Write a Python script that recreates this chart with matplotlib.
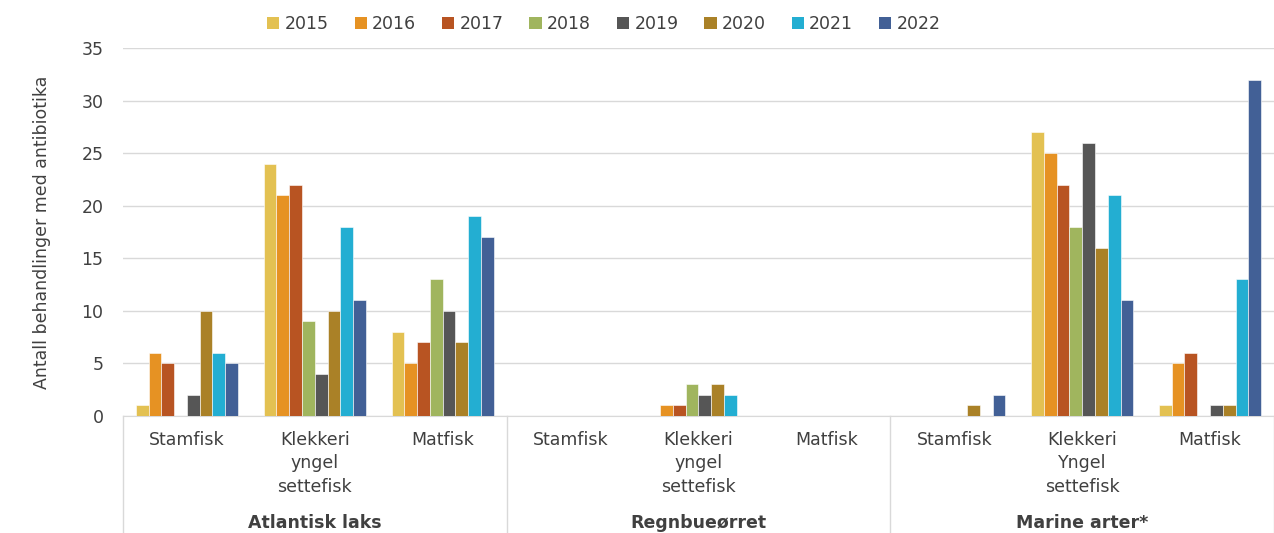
import numpy as np
import matplotlib
matplotlib.use("Agg")
import matplotlib.pyplot as plt
import matplotlib.transforms as mtransforms
from matplotlib.patches import Patch

years = ["2015", "2016", "2017", "2018", "2019", "2020", "2021", "2022"]
colors = ["#E3C152", "#E69223", "#B85422", "#A0B55E", "#565656", "#AA8127", "#23AED2", "#426096"]

species = ["Atlantisk laks", "Regnbueørret", "Marine arter*"]
stages = ["Stamfisk", "Klekkeri\nyngel\nsettefisk", "Matfisk",
          "Stamfisk", "Klekkeri\nyngel\nsettefisk", "Matfisk",
          "Stamfisk", "Klekkeri\nYngel\nsettefisk", "Matfisk"]

# rows = stage groups (in order above), columns = years
values = np.array([
    [1, 6, 5, 0, 2, 10, 6, 5],
    [24, 21, 22, 9, 4, 10, 18, 11],
    [8, 5, 7, 13, 10, 7, 19, 17],
    [0, 0, 0, 0, 0, 0, 0, 0],
    [0, 1, 1, 3, 2, 3, 2, 0],
    [0, 0, 0, 0, 0, 0, 0, 0],
    [0, 0, 0, 0, 0, 1, 0, 2],
    [27, 25, 22, 18, 26, 16, 21, 11],
    [1, 5, 6, 0, 1, 1, 13, 32],
])

txt = "#404040"
fig = plt.figure(figsize=(12.74, 5.33), dpi=100)
ax = fig.add_axes([0.0965, 0.2195, 0.9035, 0.6905])

x = np.arange(len(stages))
w = 0.1
for i, yr in enumerate(years):
    ax.bar(x - 0.35 + i * w, values[:, i], width=w, color=colors[i],
           edgecolor="white", linewidth=0.4, zorder=3)

ax.set_xlim(-0.5, len(stages) - 0.5)
ax.set_ylim(0, 35)
ax.set_yticks(range(0, 36, 5))
ax.tick_params(axis="y", length=0, labelsize=12.5, labelcolor=txt, pad=14)
ax.set_xticks([])
ax.grid(axis="y", color="#D9D9D9", linewidth=1, zorder=0)
for s in ["top", "right", "left"]:
    ax.spines[s].set_visible(False)
ax.spines["bottom"].set_color("#D9D9D9")

ax.set_ylabel("Antall behandlinger med antibiotika", fontsize=12.5, color=txt, labelpad=22)

# category labels below the axis
trans = ax.get_xaxis_transform()
for xi, lab in zip(x, stages):
    ax.text(xi, -0.04, lab, transform=trans, ha="center", va="top",
            fontsize=12.5, color=txt, linespacing=1.4)
ftrans = mtransforms.blended_transform_factory(ax.transData, fig.transFigure)
for k, sp in enumerate(species):
    ax.text(3 * k + 1, 0.002, sp, transform=ftrans, ha="center", va="bottom",
            fontsize=12.5, color=txt, fontweight="bold")
for xs in [-0.5, 2.5, 5.5, 8.5]:
    ax.plot([xs, xs], [0, -0.4], transform=trans, color="#D9D9D9",
            linewidth=1, clip_on=False)

handles = [Patch(facecolor=c) for c in colors]
fig.legend(handles, years, loc="center", bbox_to_anchor=(0.474, 0.955), ncol=8,
           frameon=False, fontsize=12.5, handlelength=0.7, handleheight=0.7,
           handletextpad=0.3, columnspacing=1.5, labelcolor=txt)

fig.savefig("out.png", dpi=100)
